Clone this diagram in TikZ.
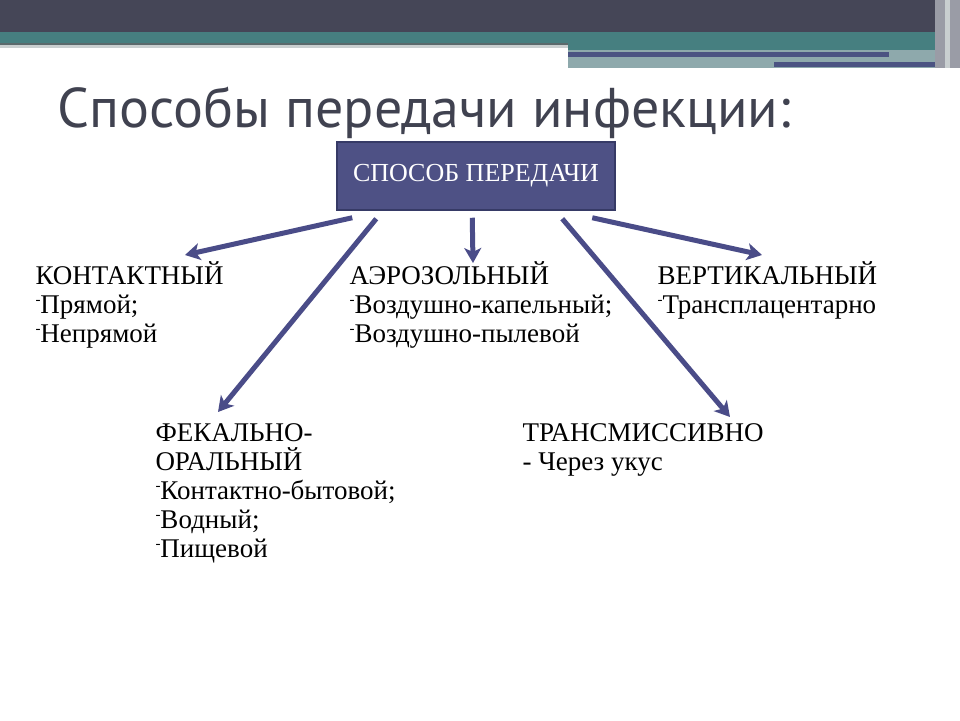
\documentclass[tikz,border=0pt]{standalone}
\usepackage{fontspec}
\setmainfont{Liberation Serif}
\newfontfamily\titlefont{PT Sans}
\usetikzlibrary{arrows.meta, calc}

\definecolor{bandDark}{HTML}{454657}
\definecolor{bandTeal}{HTML}{467F80}
\definecolor{bandLine}{HTML}{5B6A6C}
\definecolor{bandGrey}{HTML}{C9CFD0}
\definecolor{bandPale}{HTML}{8EA9AC}
\definecolor{bandBlue}{HTML}{4B5382}
\definecolor{stripeGrey}{HTML}{9A9CA6}
\definecolor{titleGrey}{HTML}{404250}
\definecolor{boxFill}{HTML}{4E5185}
\definecolor{boxEdge}{HTML}{363A66}
\definecolor{arrowBlue}{HTML}{4A4C88}

\newcommand{\bul}{\raisebox{0.32em}{\fontsize{15}{15}\selectfont-}}

\begin{document}
\begin{tikzpicture}[x=1pt, y=-1pt, >={Stealth[length=15pt, width=17pt, inset=4pt]}, line width=5pt]
        % Estilos
        \tikzstyle{way} = [anchor=base west, inner sep=0pt, align=left, font=\fontsize{27}{29}\selectfont]
        \tikzstyle{headbox} = [draw=boxEdge, fill=boxFill, line width=1.5pt, minimum width=278pt, minimum height=68pt, text=white, font=\fontsize{26}{26}\selectfont]
        \tikzstyle{link} = [->, draw=arrowBlue]
        \useasboundingbox (0,0) rectangle (960,720);
        % Cabecera
        \fill[bandDark] (0,0) rectangle (935,32);
        \fill[bandTeal] (0,32) rectangle (568,43);
        \fill[bandTeal] (568,32) rectangle (935,50);
        \fill[bandLine] (0,43) rectangle (568,45);
        \fill[bandGrey] (0,45) rectangle (568,48);
        \fill[bandPale] (568,50) rectangle (945,68);
        \fill[bandBlue] (568,52) rectangle (889,57);
        \fill[bandBlue] (774,62) rectangle (943,67);
        \fill[stripeGrey] (935,0) rectangle (960,68);
        \fill[bandGrey] (945,0) rectangle (950,68);
        % Nodes (base = baseline of the last line)
        \node[anchor=base west, inner sep=0pt, text=titleGrey, font=\titlefont\fontsize{56}{56}\selectfont] (title) at (55,127) {Способы передачи инфекции:};
        \node[headbox] (box) at (476,176) {СПОСОБ ПЕРЕДАЧИ};
        \node[way] (contact) at (33,342) {КОНТАКТНЫЙ\\\bul Прямой;\\\bul Непрямой};
        \node[way] (aerosol) at (347,342) {АЭРОЗОЛЬНЫЙ\\\bul Воздушно-капельный;\\\bul Воздушно-пылевой};
        \node[way] (vertical) at (655,313) {ВЕРТИКАЛЬНЫЙ\\\bul Трансплацентарно};
        \node[way] (fecal) at (153,557) {ФЕКАЛЬНО-\\ОРАЛЬНЫЙ\\\bul Контактно-бытовой;\\\bul Водный;\\\bul Пищевой};
        \node[way] (transm) at (520,470) {ТРАНСМИССИВНО\\- Через укус};
        % Extremos de las flechas
        \coordinate (toContact) at (185,255);
        \coordinate (toFecal) at (218,412);
        \coordinate (toAerosol) at (473,263);
        \coordinate (toTransm) at (730,417);
        \coordinate (toVertical) at (762,255);
        % Connections
        \draw[link] ([xshift=16pt, yshift=-7pt]box.south west) -- (toContact);
        \draw[link] ([xshift=40pt, yshift=-8pt]box.south west) -- (toFecal);
        \draw[link] ([xshift=136pt, yshift=-7pt]box.south west) -- (toAerosol);
        \draw[link] ([xshift=226pt, yshift=-8pt]box.south west) -- (toTransm);
        \draw[link] ([xshift=256pt, yshift=-7pt]box.south west) -- (toVertical);
\end{tikzpicture}
\end{document}
